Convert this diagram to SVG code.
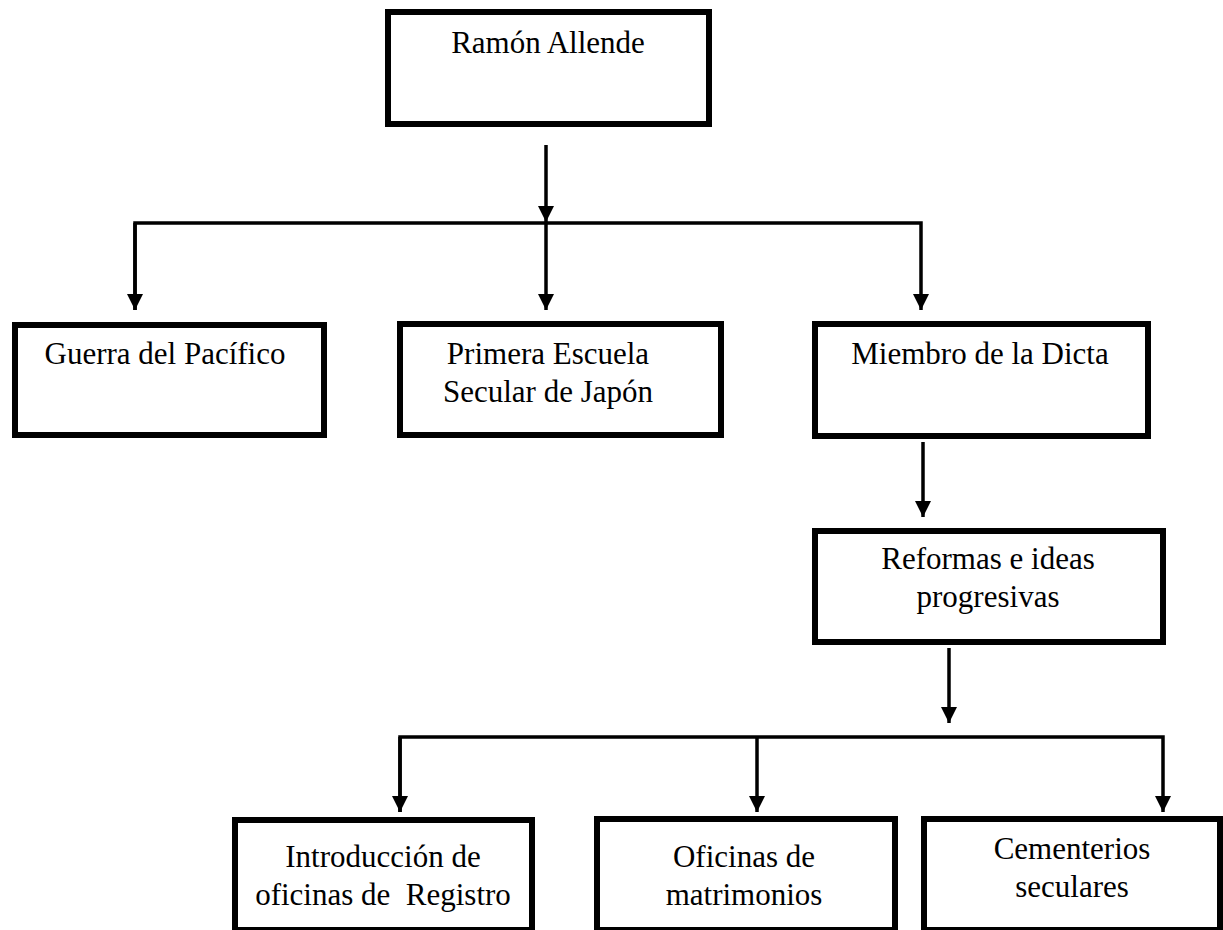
<svg xmlns="http://www.w3.org/2000/svg" width="1223" height="930" viewBox="0 0 1223 930">
<style>
.box{fill:#fff;stroke:#000;stroke-width:6}
.t{font-family:"Liberation Serif","Times New Roman",serif;font-size:31px;fill:#000;text-anchor:middle}
.c{fill:none;stroke:#000;stroke-width:3.5}
</style>
<defs>
<marker id="ah" markerUnits="userSpaceOnUse" markerWidth="16" markerHeight="16" viewBox="0 0 16 16" refX="16" refY="8" orient="auto">
<path d="M0,0 L16,8 L0,16 Z" fill="#000"/>
</marker>
</defs>
<rect width="1223" height="930" fill="#fff"/>
<g id="connectors">
<line class="c" x1="546" y1="145" x2="546" y2="222" marker-end="url(#ah)"/>
<polyline class="c" points="135,310 135,223 921,223 921,310" marker-end="url(#ah)"/>
<line class="c" x1="135" y1="223" x2="135" y2="310" marker-end="url(#ah)"/>
<line class="c" x1="546" y1="223" x2="546" y2="310" marker-end="url(#ah)"/>
<line class="c" x1="923" y1="442" x2="923" y2="517" marker-end="url(#ah)"/>
<line class="c" x1="949" y1="648" x2="949" y2="723" marker-end="url(#ah)"/>
<polyline class="c" points="400,812 400,737 1163,737 1163,812" marker-end="url(#ah)"/>
<line class="c" x1="400" y1="737" x2="400" y2="812" marker-end="url(#ah)"/>
<line class="c" x1="757" y1="737" x2="757" y2="812" marker-end="url(#ah)"/>
</g>
<g id="n-ramon">
<rect class="box" x="388" y="12" width="321" height="112"/>
<text class="t" x="548" y="53">Ramón Allende</text>
</g>
<g id="n-guerra">
<rect class="box" x="15" y="325" width="309" height="110"/>
<text class="t" x="165" y="364">Guerra del Pacífico</text>
</g>
<g id="n-escuela">
<rect class="box" x="400" y="324" width="321" height="111"/>
<text class="t" x="548" y="364">Primera Escuela</text>
<text class="t" x="548" y="402">Secular de Japón</text>
</g>
<g id="n-miembro">
<rect class="box" x="815" y="324" width="333" height="112"/>
<text class="t" x="980" y="364">Miembro de la Dicta</text>
</g>
<g id="n-reformas">
<rect class="box" x="815" y="531" width="348" height="111"/>
<text class="t" x="988" y="569">Reformas e ideas</text>
<text class="t" x="988" y="607">progresivas</text>
</g>
<g id="n-registro">
<rect class="box" x="235" y="820" width="297" height="110"/>
<text class="t" x="383" y="867">Introducción de</text>
<text class="t" x="383" y="905" xml:space="preserve">oficinas de  Registro</text>
</g>
<g id="n-matrimonios">
<rect class="box" x="597" y="819" width="298" height="111"/>
<text class="t" x="744" y="867">Oficinas de</text>
<text class="t" x="744" y="905">matrimonios</text>
</g>
<g id="n-cementerios">
<rect class="box" x="924" y="819" width="296" height="111"/>
<text class="t" x="1072" y="859">Cementerios</text>
<text class="t" x="1072" y="897">seculares</text>
</g>
</svg>
